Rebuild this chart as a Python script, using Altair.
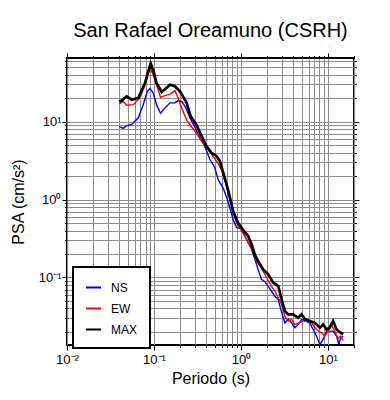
import altair as alt
import pandas as pd

# ---- data ----
ns_T = [0.040, 0.0444, 0.048, 0.0555, 0.066, 0.0753, 0.0838, 0.090, 0.098, 0.107,
        0.119, 0.134, 0.153, 0.174, 0.19, 0.21, 0.233, 0.259, 0.296, 0.332,
        0.37, 0.403, 0.44, 0.50, 0.548, 0.626, 0.70, 0.816, 0.89, 1.02,
        1.16, 1.33, 1.45, 1.58, 1.72, 1.88, 2.15, 2.46, 2.69, 2.94,
        3.21, 3.50, 3.83, 4.18, 4.56, 4.99, 5.6, 6.21, 6.78, 7.41,
        8.09, 8.84, 9.66, 10.5, 11.5, 12.6, 13.4, 14.0, 15.0]
ns_S = [8.6, 8.2, 8.8, 9.2, 11.2, 16.5, 24.4, 26.5, 23.4, 16.5,
        12.8, 15.0, 17.4, 17.4, 18.6, 18.0, 15.0, 11.2, 8.5, 6.5,
        5.3, 4.2, 3.26, 2.6, 1.8, 1.4, 1.0, 0.55, 0.44, 0.42,
        0.31, 0.23, 0.17, 0.127, 0.095, 0.089, 0.072, 0.0575, 0.052, 0.0355,
        0.0262, 0.029, 0.0262, 0.0227, 0.0249, 0.029, 0.0275, 0.026, 0.0215, 0.0177,
        0.0138, 0.016, 0.0205, 0.0205, 0.0205, 0.0177, 0.0138, 0.0166, 0.0177]

ew_T = [0.040, 0.0444, 0.0485, 0.0578, 0.069, 0.079, 0.090, 0.098, 0.107, 0.119,
        0.134, 0.153, 0.174, 0.19, 0.208, 0.24, 0.27, 0.31, 0.354, 0.403,
        0.46, 0.527, 0.60, 0.686, 0.75, 0.80, 0.89, 0.974, 1.11, 1.21,
        1.38, 1.52, 1.72, 1.97, 2.25, 2.46, 2.69, 2.94, 3.21, 3.50,
        3.83, 4.18, 4.56, 5.2, 5.94, 6.5, 7.41, 8.47, 9.25, 10.1,
        11.0, 12.0, 13.1, 14.0, 15.0]
ew_S = [16.9, 18.2, 16.2, 16.5, 20.1, 29.8, 48.8, 40.1, 29.8, 20.5,
        21.5, 22.5, 25.0, 20.1, 15.0, 10.3, 8.6, 7.0, 5.6, 4.6,
        3.8, 3.1, 2.4, 1.45, 1.05, 0.75, 0.5, 0.43, 0.34, 0.28,
        0.22, 0.16, 0.133, 0.10, 0.077, 0.0667, 0.055, 0.045, 0.0317, 0.0276,
        0.029, 0.0249, 0.026, 0.0276, 0.0276, 0.026, 0.0215, 0.0195, 0.0177, 0.0205,
        0.0249, 0.0205, 0.0165, 0.0177, 0.0155]

max_T = [0.040, 0.0444, 0.0485, 0.0555, 0.066, 0.0789, 0.085, 0.0917, 0.099, 0.107,
         0.123, 0.153, 0.174, 0.199, 0.227, 0.237, 0.265, 0.31, 0.354, 0.403,
         0.46, 0.527, 0.574, 0.62, 0.686, 0.75, 0.816, 0.93, 1.06, 1.21,
         1.33, 1.45, 1.58, 1.80, 2.06, 2.35, 2.69, 2.94, 3.21, 3.50,
         3.99, 4.56, 4.99, 5.45, 6.21, 7.09, 8.09, 8.84, 9.66, 10.5,
         11.5, 12.6, 13.7, 15.0]
max_S = [17.9, 19.3, 21.1, 19.1, 20.1, 31.3, 42.0, 55.5, 44.0, 31.3,
         24.0, 29.8, 28.4, 24.4, 19.1, 17.4, 11.7, 9.0, 6.5, 4.8,
         3.97, 3.6, 3.1, 2.3, 1.55, 1.05, 0.7, 0.50, 0.41, 0.34,
         0.265, 0.195, 0.162, 0.127, 0.11, 0.086, 0.0775, 0.0522, 0.037, 0.0336,
         0.0336, 0.0304, 0.0336, 0.029, 0.0276, 0.0262, 0.0227, 0.0249, 0.0215, 0.0227,
         0.0276, 0.0215, 0.0199, 0.0186]

series_names = ["NS", "EW", "MAX"]
series_colors = ["#0000ff", "#ff0000", "#000000"]

x_ticks = [0.01, 0.02, 0.03, 0.04, 0.05, 0.06, 0.07, 0.08, 0.09,
           0.1, 0.2, 0.3, 0.4, 0.5, 0.6, 0.7, 0.8, 0.9,
           1, 2, 3, 4, 5, 6, 7, 8, 9, 10, 20]
y_ticks = [0.02, 0.03, 0.04, 0.05, 0.06, 0.07, 0.08, 0.09,
           0.1, 0.2, 0.3, 0.4, 0.5, 0.6, 0.7, 0.8, 0.9,
           1, 2, 3, 4, 5, 6, 7, 8, 9,
           10, 20, 30, 40, 50, 60]

rows = []
for name, T, S in [("NS", ns_T, ns_S), ("EW", ew_T, ew_S), ("MAX", max_T, max_S)]:
    for i, (t, s) in enumerate(zip(T, S)):
        rows.append({"series": name, "T": t, "S": s, "i": i})
df = pd.DataFrame(rows)

FONT = "Liberation Sans"
E = "round(log(datum.value)/LN10)"
IS_DEC = f"abs(log(datum.value)/LN10 - {E}) < 0.001"
LABEL = (f"{IS_DEC} ? ({E} == -2 ? '10⁻²' : {E} == -1 ? '10⁻¹' : "
         f"{E} == 0 ? '10⁰' : {E} == 1 ? '10¹' : '') : ''")
TICK = {"condition": {"test": IS_DEC, "value": 5}, "value": 2.5}

xscale = alt.Scale(type="log", domain=[0.01, 20], nice=False)
yscale = alt.Scale(type="log", domain=[0.0136, 65.5], nice=False)

common_axis = dict(domain=False, tickColor="black", tickWidth=1, tickSize=TICK,
                   labelFont=FONT, labelFontSize=13, labelColor="black",
                   labelFlush=False, labelOverlap=False,
                   titleFont=FONT, titleFontWeight="normal", titleColor="black")

legend = alt.Legend(orient="none", legendX=6, legendY=209,
                    title=None, symbolType="stroke", symbolStrokeWidth=2,
                    symbolSize=225, padding=12, rowPadding=6,
                    labelFont=FONT, labelFontSize=12,
                    labelColor="black", labelOffset=9,
                    labelExpr="datum.label + '  '",
                    strokeColor="black", fillColor="white")

lines = alt.Chart(df).mark_line(clip=True).encode(
    x=alt.X("T:Q", scale=xscale,
            axis=alt.Axis(values=x_ticks, labelExpr=LABEL, grid=True,
                          gridColor="#8c8c8c", gridWidth=1, orient="bottom",
                          title="Periodo (s)", titleFontSize=16, labelPadding=3,
                          titlePadding=4, **common_axis)),
    y=alt.Y("S:Q", scale=yscale,
            axis=alt.Axis(values=y_ticks, labelExpr=LABEL, grid=True,
                          gridColor="#8c8c8c", gridWidth=1, orient="left",
                          title="PSA (cm/s²)", titleFontSize=16, labelPadding=1,
                          titlePadding=12, labelBaseline="middle", **common_axis)),
    color=alt.Color("series:N", sort=series_names,
                    scale=alt.Scale(domain=series_names, range=series_colors),
                    legend=legend),
    strokeWidth=alt.condition("datum.series == 'MAX'", alt.value(2.7), alt.value(1.4)),
    order="i:Q",
)

frame = alt.Chart(df).mark_line(opacity=0).encode(
    x=alt.X("T:Q", scale=xscale,
            axis=alt.Axis(values=x_ticks, labels=False, grid=False, orient="top",
                          title=None, **common_axis)),
    y=alt.Y("S:Q", scale=yscale,
            axis=alt.Axis(values=y_ticks, labels=False, grid=False, orient="right",
                          title=None, **common_axis)),
    detail="series:N",
)

chart = alt.layer(lines, frame).resolve_axis(x="independent", y="independent").properties(
    width=287, height=287,
    title=alt.Title("San Rafael Oreamuno (CSRH)", font=FONT, fontSize=20,
                    fontWeight="normal", color="black", anchor="middle", offset=12),
    autosize=alt.AutoSizeParams(type="none"),
    padding={"left": 59, "top": 50, "right": 25, "bottom": 45},
).configure_view(stroke="black", strokeWidth=2).configure_legend(strokeWidth=2)

chart.save("out.html", embed_options={"renderer": "svg", "actions": False})
